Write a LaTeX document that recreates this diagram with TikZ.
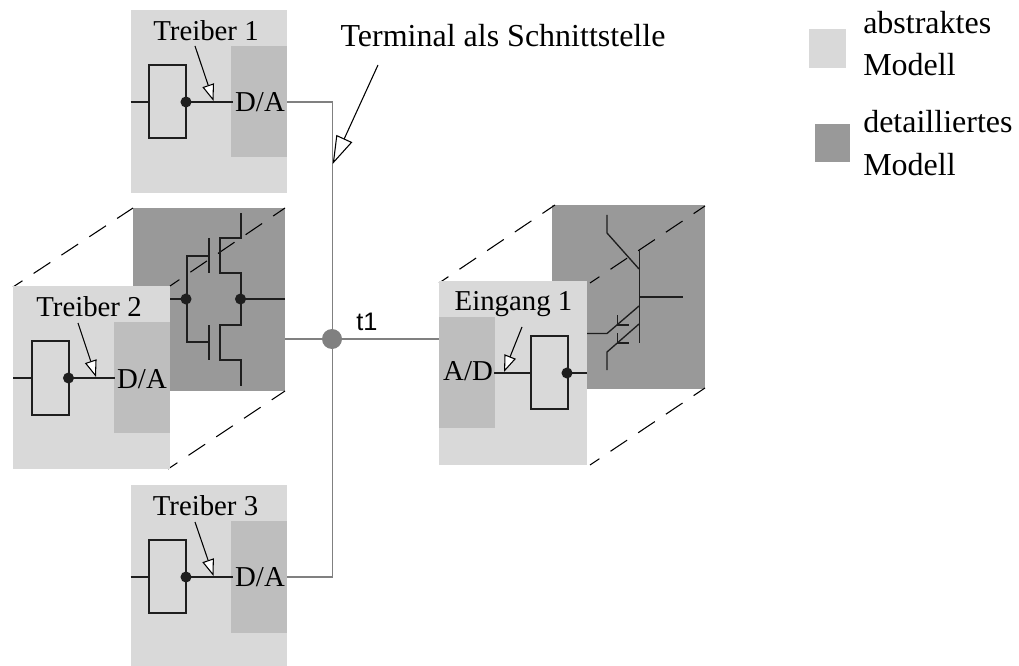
\documentclass[tikz,border=0pt]{standalone}
\usepackage{fontspec}
\setmainfont{Liberation Serif}
\newfontfamily\labelsans{Liberation Sans}
\usetikzlibrary{arrows.meta}
\definecolor{abstr}{HTML}{D9D9D9}
\definecolor{conv}{HTML}{BEBEBE}
\definecolor{detail}{HTML}{999999}
\definecolor{wire}{HTML}{1E1E1E}
\definecolor{term}{HTML}{808080}
\tikzset{
  x=0.75pt,y=-0.75pt,
  abstractbox/.style={fill=abstr,draw=none},
  convbox/.style={fill=conv,draw=none},
  detailbox/.style={fill=detail,draw=none},
  wireline/.style={draw=wire,line width=1pt},
  termline/.style={draw=term,line width=1.1pt},
  dashline/.style={draw=black,line width=0.8pt,dash pattern=on 15pt off 10pt,dash phase=6.5pt},
  dotmark/.style={circle,fill=wire,draw=none,inner sep=0pt,minimum size=8.3pt},
  pointer/.style={draw=black,line width=0.8pt,-{Triangle[open,fill=white,length=12.5pt,width=9pt]}},
  bigpointer/.style={draw=black,line width=0.8pt,-{Triangle[open,fill=white,length=21pt,width=13pt]}},
  lab/.style={font=\fontsize{21.6}{24}\selectfont,inner sep=0pt,text=black,anchor=base},
  toplab/.style={font=\fontsize{24}{28}\selectfont,inner sep=0pt,text=black,anchor=base},
  legendtext/.style={font=\fontsize{24}{32}\selectfont,inner sep=0pt,align=left,anchor=west,text=black},
}
\begin{document}
\begin{tikzpicture}
\useasboundingbox (0,0) rectangle (1019,666);

% dark boxes
\fill[detailbox] (133,208) rectangle (285,391);
\fill[detailbox] (552,205) rectangle (705,389);

% dashed edges
\coordinate (dA1) at (13,287); \coordinate (dA2) at (133,208);
\draw[dashline] (dA1) -- (dA2);
\coordinate (dB1) at (170,286); \coordinate (dB2) at (285,208);
\draw[dashline] (dB1) -- (dB2);
\coordinate (dC1) at (168,469); \coordinate (dC2) at (285,391);
\draw[dashline] (dC1) -- (dC2);
\coordinate (dD1) at (439,283); \coordinate (dD2) at (555,205);
\draw[dashline] (dD1) -- (dD2);
\coordinate (dE1) at (590,283); \coordinate (dE2) at (705,206);
\draw[dashline] (dE1) -- (dE2);
\coordinate (dF1) at (590,465); \coordinate (dF2) at (705,388);
\draw[dashline] (dF1) -- (dF2);

% terminal wiring
\coordinate (j1) at (287,102); \coordinate (j1c) at (332.5,102);
\coordinate (j3) at (287,577); \coordinate (j3c) at (332.5,577);
\coordinate (j2) at (285,339); \coordinate (j4) at (439,339);
\node[circle,fill=term,draw=none,minimum size=15pt,inner sep=0pt] (hub) at (332,339) {};
\draw[termline] (j1) -- (j1c) -- (j3c) -- (j3);
\draw[termline] (j2) -- (hub) -- (j4);
\node[font=\labelsans\fontsize{19}{20}\selectfont,inner sep=0pt,anchor=base] (t1) at (367,330) {t1};

% Treiber 1
\fill[abstractbox] (130.5,10) rectangle (287,193);
\fill[convbox] (231,46) rectangle (287,157);
\draw[wireline] (130.5,102) -- (149,102);
\draw[wireline] (149,65) rectangle (186,138);
\draw[wireline] (186,102) -- (233,102);
\node[dotmark] (d1) at (186,102) {};
\node[lab] (tr1) at (206,40.7) {Treiber 1};
\node[lab] (da1) at (260,111.7) {D/A};
\coordinate (a1s) at (195,46); \coordinate (a1e) at (213.5,101);
\draw[pointer] (a1s) -- (a1e);

% Treiber 3
\fill[abstractbox] (130.5,485) rectangle (287,666);
\fill[convbox] (231,521) rectangle (287,633);
\draw[wireline] (130.5,577) -- (149,577);
\draw[wireline] (149,540) rectangle (186,613);
\draw[wireline] (186,577) -- (233,577);
\node[dotmark] (d3) at (186,577) {};
\node[lab] (tr3) at (205.5,515.7) {Treiber 3};
\node[lab] (da3) at (260,586.7) {D/A};
\coordinate (a3s) at (195,522); \coordinate (a3e) at (213.5,576);
\draw[pointer] (a3s) -- (a3e);

% CMOS
\draw[wireline] (170,299) -- (186,299);
\draw[wireline] (241,299) -- (285,299);
\draw[wireline] (209,256) -- (187,256) -- (187,342) -- (209,342);
\draw[wireline] (209,238) -- (209,273);
\draw[wireline] (209,325) -- (209,360);
\draw[wireline] (241,213) -- (241,238) -- (220,238) -- (220,273) -- (241,273) -- (241,325) -- (220,325) -- (220,360) -- (241,360) -- (241,386);
\node[dotmark] (c1) at (186,299) {};
\node[dotmark] (c2) at (240.5,299) {};

% Treiber 2
\fill[abstractbox] (13,286) rectangle (170,469);
\fill[convbox] (113.5,322) rectangle (170,433);
\draw[wireline] (13,378) -- (32,378);
\draw[wireline] (32,341) rectangle (69,415);
\draw[wireline] (69,378) -- (115,378);
\node[dotmark] (d2) at (68.5,378) {};
\node[lab] (tr2) at (89,316.7) {Treiber 2};
\node[lab] (da2) at (142,388.3) {D/A};
\coordinate (a2s) at (78,323); \coordinate (a2e) at (96,377);
\draw[pointer] (a2s) -- (a2e);

% bipolar
\draw[wireline] (607,215) -- (607,233) -- (639,269);
\draw[wireline] (639.3,250) -- (639.3,343);
\draw[wireline] (639,297) -- (683,297);
\draw[wireline] (587,333.5) -- (607,333.5) -- (639,306);
\draw[wireline] (639,324) -- (607,352) -- (607,370);
\draw[wireline] (617.7,315) -- (617.7,325) -- (629,325);
\draw[wireline] (617.7,333) -- (617.7,343) -- (629,343);

% Eingang 1
\fill[abstractbox] (439,281) rectangle (587,465);
\fill[convbox] (439,317) rectangle (495,428);
\draw[wireline] (494,373) -- (531,373);
\draw[wireline] (531,336) rectangle (568,409);
\draw[wireline] (568,373) -- (587,373);
\node[dotmark] (d4) at (567,373) {};
\node[lab] (ein) at (513.5,310) {Eingang 1};
\node[lab] (ad) at (468,380.7) {A/D};
\coordinate (a4s) at (522,327); \coordinate (a4e) at (504,372);
\draw[pointer] (a4s) -- (a4e);

% terminal label
\node[toplab] (term) at (503,46.7) {Terminal als Schnittstelle};
\coordinate (a5s) at (378,65); \coordinate (a5e) at (332.7,164);
\draw[bigpointer] (a5s) -- (a5e);

% legend
\fill[abstractbox] (809,29) rectangle (846,68);
\fill[detailbox] (815,124) rectangle (850,162);
\node[legendtext] (lg1) at (863,43.5) {abstraktes\\Modell};
\node[legendtext] (lg2) at (863,143) {detailliertes\\Modell};
\end{tikzpicture}
\end{document}
